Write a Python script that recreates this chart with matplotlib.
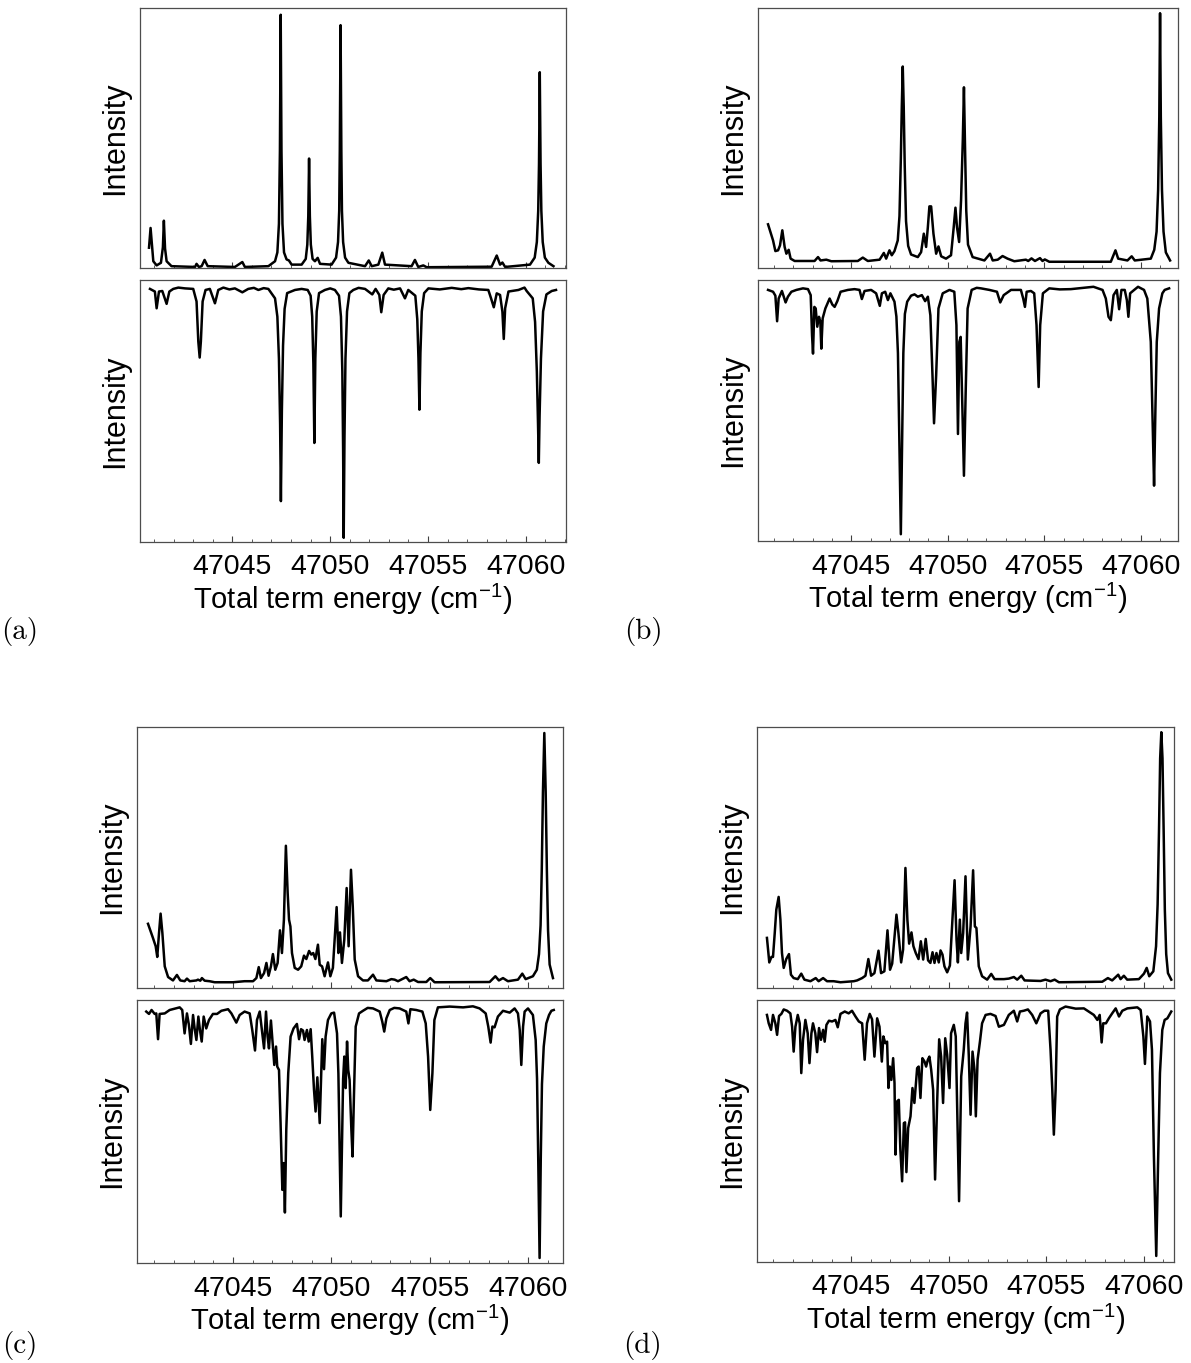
import numpy as np
import matplotlib
matplotlib.use("Agg")
import matplotlib.pyplot as plt
from matplotlib.ticker import MultipleLocator, StrMethodFormatter

# (energy in cm^-1, intensity in arb. units)
A_UPPER = [
    (47040.74, 7.8), (47040.82, 15.4), (47040.96, 2.6), (47041.13, 1.0), (47041.35, 2.0),
    (47041.45, 8.0), (47041.50, 18.2), (47041.56, 7.5), (47041.64, 2.6), (47041.89, 0.7),
    (47043.09, 0.4), (47043.17, 1.6), (47043.29, 0.4), (47043.43, 0.7), (47043.58, 3.1),
    (47043.74, 0.7), (47045.13, 0.4), (47045.51, 2.3), (47045.64, 0.4), (47046.84, 0.7),
    (47047.18, 2.6), (47047.30, 6.0), (47047.38, 17.0), (47047.43, 45.0), (47047.47, 97.4),
    (47047.51, 45.0), (47047.56, 17.0), (47047.64, 6.0), (47047.77, 3.3), (47047.89, 2.9),
    (47048.03, 1.3), (47048.54, 1.3), (47048.75, 3.5), (47048.83, 9.0), (47048.88, 20.0),
    (47048.92, 42.1), (47048.96, 20.0), (47049.01, 9.0), (47049.10, 3.5), (47049.22, 2.6),
    (47049.36, 3.9), (47049.48, 1.6), (47050.07, 1.3), (47050.30, 4.0), (47050.40, 10.0),
    (47050.46, 22.0), (47050.49, 45.0), (47050.53, 93.4), (47050.57, 45.0), (47050.60, 22.0),
    (47050.66, 10.0), (47050.76, 4.0), (47050.93, 2.0), (47051.78, 0.7), (47051.97, 2.9),
    (47052.12, 0.7), (47052.46, 1.3), (47052.66, 5.9), (47052.80, 1.3), (47054.16, 0.7),
    (47054.33, 3.1), (47054.50, 0.4), (47054.76, 1.0), (47054.93, 0.3), (47058.25, 0.5),
    (47058.51, 4.8), (47058.68, 1.3), (47058.80, 2.1), (47058.94, 0.4), (47060.21, 1.3),
    (47060.45, 4.0), (47060.56, 10.0), (47060.63, 22.0), (47060.67, 40.0), (47060.71, 75.3),
    (47060.75, 40.0), (47060.79, 22.0), (47060.86, 10.0), (47060.97, 4.0), (47061.15, 2.0),
    (47061.41, 0.7),
]

A_LOWER = [
    (47040.79, 3.4), (47041.04, 4.4), (47041.13, 10.8), (47041.25, 4.4), (47041.42, 4.2),
    (47041.64, 9.1), (47041.78, 4.4), (47041.98, 3.4), (47042.24, 2.9), (47042.58, 3.2),
    (47043.00, 3.4), (47043.17, 8.2), (47043.26, 23.5), (47043.33, 29.6), (47043.39, 23.5),
    (47043.48, 8.2), (47043.63, 3.8), (47043.85, 3.4), (47044.11, 8.9), (47044.28, 3.8),
    (47044.54, 2.9), (47044.85, 3.6), (47045.13, 3.2), (47045.51, 4.7), (47045.81, 3.4),
    (47046.10, 3.0), (47046.33, 3.8), (47046.60, 3.1), (47046.84, 3.4), (47047.18, 7.0),
    (47047.30, 14.0), (47047.38, 30.0), (47047.44, 55.0), (47047.48, 84.4), (47047.53, 50.0),
    (47047.59, 25.0), (47047.67, 11.0), (47047.80, 5.0), (47048.20, 3.8), (47048.54, 3.4),
    (47048.85, 3.8), (47049.00, 6.0), (47049.08, 14.0), (47049.14, 32.0), (47049.19, 62.2),
    (47049.24, 30.0), (47049.31, 12.0), (47049.43, 5.0), (47049.73, 3.8), (47050.00, 3.2),
    (47050.24, 3.8), (47050.45, 6.0), (47050.55, 14.0), (47050.62, 35.0), (47050.66, 65.0),
    (47050.69, 98.4), (47050.73, 60.0), (47050.78, 30.0), (47050.86, 12.0), (47050.98, 5.0),
    (47051.18, 3.8), (47051.45, 3.0), (47051.78, 3.4), (47052.15, 5.5), (47052.32, 3.4),
    (47052.51, 5.7), (47052.61, 12.3), (47052.73, 5.7), (47052.97, 3.2), (47053.25, 3.7),
    (47053.57, 3.2), (47053.82, 7.0), (47053.99, 3.8), (47054.35, 6.0), (47054.45, 15.0),
    (47054.51, 30.0), (47054.56, 49.5), (47054.61, 28.0), (47054.68, 12.0), (47054.80, 5.0),
    (47055.02, 3.2), (47055.60, 3.6), (47056.21, 3.0), (47056.70, 3.5), (47057.06, 3.1),
    (47057.60, 3.6), (47058.08, 3.8), (47058.22, 7.0), (47058.36, 10.4), (47058.51, 5.1),
    (47058.68, 5.7), (47058.80, 12.1), (47058.87, 22.5), (47058.94, 10.8), (47059.11, 4.4),
    (47059.62, 3.8), (47059.93, 2.9), (47060.04, 4.2), (47060.35, 7.0), (47060.47, 16.0),
    (47060.56, 35.0), (47060.62, 55.0), (47060.66, 69.8), (47060.70, 52.0), (47060.77, 30.0),
    (47060.88, 12.0), (47061.05, 5.5), (47061.32, 4.2), (47061.54, 3.8),
]

B_UPPER = [
    (47040.69, 16.8), (47040.95, 10.6), (47041.07, 6.5), (47041.21, 6.8), (47041.31, 8.7),
    (47041.43, 14.5), (47041.55, 8.1), (47041.64, 5.5), (47041.76, 7.0), (47041.86, 3.6),
    (47042.07, 2.7), (47043.10, 2.7), (47043.28, 4.2), (47043.41, 2.9), (47043.71, 3.2),
    (47043.97, 2.6), (47045.34, 2.7), (47045.60, 4.0), (47045.86, 2.7), (47046.47, 3.2),
    (47046.69, 5.8), (47046.81, 3.6), (47046.98, 6.8), (47047.10, 4.9), (47047.24, 6.5),
    (47047.41, 10.6), (47047.50, 20.0), (47047.57, 42.0), (47047.62, 62.0), (47047.67, 77.5),
    (47047.72, 62.0), (47047.77, 40.0), (47047.84, 18.0), (47047.95, 8.5), (47048.10, 5.2),
    (47048.45, 4.2), (47048.62, 6.1), (47048.76, 13.2), (47048.88, 8.1), (47048.97, 15.7),
    (47049.05, 23.7), (47049.14, 23.7), (47049.26, 13.2), (47049.40, 5.5), (47049.52, 8.3),
    (47049.66, 4.5), (47049.91, 3.6), (47050.17, 4.9), (47050.31, 15.7), (47050.40, 23.2),
    (47050.48, 15.7), (47050.59, 10.0), (47050.69, 26.0), (47050.78, 49.0), (47050.84, 69.5),
    (47050.90, 45.0), (47050.96, 22.0), (47051.05, 9.0), (47051.29, 4.2), (47051.90, 2.9),
    (47052.19, 5.5), (47052.33, 2.9), (47052.59, 3.2), (47052.84, 4.6), (47053.10, 3.6),
    (47053.45, 2.6), (47054.05, 3.2), (47054.17, 2.7), (47054.34, 3.7), (47054.52, 2.7),
    (47054.78, 3.8), (47054.91, 2.7), (47055.03, 3.3), (47055.26, 2.4), (47058.45, 2.4),
    (47058.69, 6.8), (47058.83, 3.6), (47059.31, 2.9), (47059.53, 4.5), (47059.69, 2.9),
    (47060.52, 3.6), (47060.70, 7.0), (47060.82, 14.0), (47060.90, 30.0), (47060.96, 58.0),
    (47061.00, 98.0), (47061.04, 58.0), (47061.10, 30.0), (47061.18, 14.0), (47061.30, 6.0),
    (47061.52, 2.9),
]

B_LOWER = [
    (47040.69, 3.8), (47040.95, 4.5), (47041.07, 6.0), (47041.16, 15.8), (47041.24, 7.1),
    (47041.41, 4.2), (47041.60, 8.6), (47041.72, 6.4), (47041.90, 4.5), (47042.16, 3.8),
    (47042.50, 3.2), (47042.76, 3.5), (47042.90, 5.8), (47042.97, 21.2), (47043.02, 28.2),
    (47043.09, 10.3), (47043.16, 10.9), (47043.24, 17.9), (47043.33, 14.1), (47043.40, 16.0),
    (47043.45, 26.3), (47043.52, 14.7), (47043.66, 10.9), (47043.88, 7.1), (47044.02, 9.4),
    (47044.14, 10.3), (47044.28, 8.1), (47044.45, 4.5), (47044.83, 3.8), (47045.17, 3.5),
    (47045.43, 3.8), (47045.55, 7.3), (47045.69, 4.2), (47046.03, 3.8), (47046.29, 5.1),
    (47046.48, 9.9), (47046.59, 5.1), (47046.76, 4.5), (47046.90, 7.7), (47047.03, 5.1),
    (47047.24, 8.3), (47047.34, 14.0), (47047.42, 28.0), (47047.49, 60.0), (47047.57, 97.4),
    (47047.64, 60.0), (47047.70, 28.0), (47047.78, 13.0), (47047.90, 8.3), (47048.10, 6.0),
    (47048.28, 5.5), (47048.45, 6.4), (47048.66, 5.8), (47048.83, 8.1), (47048.97, 6.4),
    (47049.10, 13.5), (47049.21, 36.5), (47049.29, 54.9), (47049.40, 36.5), (47049.52, 10.9),
    (47049.74, 5.1), (47050.09, 3.8), (47050.34, 4.5), (47050.45, 17.3), (47050.53, 59.0),
    (47050.60, 23.7), (47050.67, 21.8), (47050.76, 49.4), (47050.84, 75.0), (47050.93, 42.9),
    (47051.03, 10.9), (47051.24, 3.8), (47051.50, 3.0), (47051.72, 3.2), (47052.16, 3.8),
    (47052.55, 4.5), (47052.72, 8.6), (47052.90, 5.8), (47053.28, 3.8), (47053.79, 3.8),
    (47053.91, 7.1), (47054.00, 10.3), (47054.09, 4.5), (47054.31, 4.2), (47054.48, 5.1),
    (47054.60, 17.3), (47054.71, 41.0), (47054.79, 17.3), (47054.93, 5.1), (47055.26, 3.2),
    (47055.80, 3.6), (47056.38, 3.5), (47056.90, 3.1), (47057.55, 2.6), (47058.02, 3.8),
    (47058.19, 7.1), (47058.33, 14.1), (47058.45, 15.4), (47058.59, 5.8), (47058.76, 3.8),
    (47058.88, 11.2), (47059.00, 3.8), (47059.17, 3.8), (47059.28, 7.7), (47059.36, 14.1),
    (47059.45, 5.1), (47059.66, 3.8), (47059.86, 2.6), (47060.17, 3.8), (47060.34, 7.1),
    (47060.52, 23.7), (47060.62, 55.8), (47060.69, 78.8), (47060.76, 49.4), (47060.83, 23.7),
    (47060.95, 10.9), (47061.12, 5.1), (47061.24, 3.8), (47061.47, 3.2),
]

C_UPPER = [
    (47040.68, 24.6), (47040.93, 19.2), (47041.07, 16.0), (47041.15, 11.9), (47041.24, 21.1),
    (47041.32, 28.5), (47041.41, 21.1), (47041.53, 8.3), (47041.70, 4.2), (47041.95, 2.9),
    (47042.15, 5.0), (47042.32, 2.9), (47042.54, 2.6), (47042.66, 3.6), (47042.80, 2.6),
    (47043.14, 2.9), (47043.22, 3.2), (47043.34, 2.8), (47043.42, 3.8), (47043.56, 2.8),
    (47043.81, 2.6), (47044.07, 2.2), (47045.00, 2.2), (47045.59, 2.6), (47046.02, 2.6),
    (47046.19, 3.8), (47046.31, 8.0), (47046.42, 3.8), (47046.58, 5.7), (47046.70, 9.6),
    (47046.81, 4.7), (47046.93, 8.3), (47047.03, 13.0), (47047.15, 7.0), (47047.27, 9.6),
    (47047.39, 22.1), (47047.49, 13.4), (47047.59, 26.2), (47047.69, 54.5), (47047.78, 36.4),
    (47047.85, 26.2), (47047.92, 23.6), (47048.00, 13.4), (47048.14, 7.7), (47048.31, 7.0),
    (47048.47, 8.3), (47048.61, 12.4), (47048.73, 11.1), (47048.87, 14.2), (47048.98, 12.8),
    (47049.08, 13.4), (47049.19, 11.1), (47049.32, 16.6), (47049.41, 8.9), (47049.53, 8.3),
    (47049.66, 4.5), (47049.83, 9.8), (47049.95, 4.5), (47050.08, 7.7), (47050.19, 21.1),
    (47050.27, 31.0), (47050.36, 13.4), (47050.44, 21.3), (47050.54, 9.6), (47050.66, 18.5),
    (47050.78, 38.3), (47050.88, 16.0), (47051.00, 45.3), (47051.09, 31.3), (47051.19, 10.9),
    (47051.36, 4.5), (47051.61, 2.9), (47051.86, 2.9), (47052.12, 5.1), (47052.29, 2.9),
    (47052.80, 2.6), (47053.05, 3.4), (47053.22, 3.2), (47053.39, 2.6), (47053.81, 4.2),
    (47053.98, 2.6), (47054.19, 3.2), (47054.41, 2.3), (47054.83, 2.3), (47055.03, 3.8),
    (47055.25, 2.2), (47058.05, 2.3), (47058.34, 4.5), (47058.52, 2.9), (47058.73, 3.8),
    (47058.98, 2.6), (47059.49, 3.2), (47059.71, 5.5), (47059.88, 3.4), (47060.25, 4.5),
    (47060.45, 7.0), (47060.56, 13.0), (47060.64, 24.0), (47060.70, 45.0), (47060.76, 75.0),
    (47060.83, 97.7), (47060.90, 75.0), (47060.96, 45.0), (47061.02, 22.0), (47061.10, 9.0),
    (47061.27, 3.8),
]

C_LOWER = [
    (47040.59, 4.4), (47040.73, 5.3), (47040.86, 3.8), (47041.02, 5.3), (47041.10, 5.1),
    (47041.19, 14.9), (47041.27, 5.3), (47041.53, 5.1), (47041.78, 3.8), (47042.29, 2.8),
    (47042.42, 3.8), (47042.54, 12.7), (47042.66, 5.1), (47042.76, 9.5), (47042.86, 16.7),
    (47042.97, 5.7), (47043.05, 10.8), (47043.14, 15.2), (47043.24, 6.3), (47043.32, 11.4),
    (47043.41, 15.8), (47043.51, 6.3), (47043.64, 10.8), (47043.78, 7.6), (47043.98, 5.3),
    (47044.19, 5.3), (47044.41, 4.1), (47044.75, 3.5), (47044.92, 5.1), (47045.17, 8.6),
    (47045.34, 5.7), (47045.59, 4.4), (47045.85, 5.1), (47045.98, 11.4), (47046.12, 19.2),
    (47046.22, 7.6), (47046.36, 4.4), (47046.47, 11.4), (47046.58, 18.4), (47046.68, 4.4),
    (47046.76, 13.9), (47046.83, 18.4), (47046.93, 7.8), (47047.03, 17.7), (47047.10, 24.7),
    (47047.19, 17.7), (47047.25, 25.3), (47047.34, 26.6), (47047.42, 46.8), (47047.51, 72.2),
    (47047.58, 62.0), (47047.64, 80.8), (47047.71, 49.4), (47047.81, 27.8), (47047.93, 13.9),
    (47048.08, 10.8), (47048.25, 9.1), (47048.36, 14.9), (47048.46, 11.1), (47048.56, 11.6),
    (47048.64, 15.2), (47048.76, 11.4), (47048.85, 15.8), (47048.95, 11.1), (47049.03, 21.5),
    (47049.12, 34.2), (47049.20, 42.4), (47049.29, 29.4), (47049.41, 46.8), (47049.47, 31.6),
    (47049.54, 14.9), (47049.63, 26.3), (47049.71, 13.9), (47049.83, 7.6), (47050.00, 5.1),
    (47050.14, 4.8), (47050.29, 12.7), (47050.36, 28.0), (47050.42, 55.0), (47050.48, 82.3),
    (47050.54, 55.0), (47050.60, 30.0), (47050.66, 21.5), (47050.73, 33.5), (47050.80, 15.8),
    (47050.86, 26.6), (47050.93, 30.4), (47051.02, 49.4), (47051.08, 59.5), (47051.15, 36.7),
    (47051.24, 10.1), (47051.41, 5.1), (47051.61, 4.1), (47051.85, 3.0), (47052.12, 3.2),
    (47052.46, 4.4), (47052.59, 8.2), (47052.69, 12.0), (47052.80, 7.0), (47052.97, 3.8),
    (47053.20, 3.0), (47053.47, 3.2), (47053.81, 4.4), (47053.92, 8.9), (47054.02, 3.5),
    (47054.32, 3.8), (47054.63, 4.4), (47054.80, 8.9), (47054.92, 21.5), (47055.03, 41.8),
    (47055.14, 27.8), (47055.24, 7.6), (47055.42, 2.8), (47056.02, 2.5), (47056.70, 2.8),
    (47057.20, 2.4), (47057.54, 3.2), (47057.85, 5.1), (47057.98, 10.1), (47058.10, 16.2),
    (47058.19, 10.1), (47058.30, 10.4), (47058.47, 6.3), (47058.73, 4.1), (47059.07, 4.8),
    (47059.32, 3.2), (47059.49, 5.1), (47059.58, 11.4), (47059.66, 24.7), (47059.75, 10.1),
    (47059.83, 4.4), (47060.00, 3.2), (47060.25, 5.7), (47060.39, 15.2), (47060.46, 30.0),
    (47060.52, 60.0), (47060.59, 98.1), (47060.65, 60.0), (47060.71, 32.0), (47060.80, 17.7),
    (47060.93, 8.9), (47061.07, 5.7), (47061.19, 4.1), (47061.31, 3.8),
]

D_UPPER = [
    (47040.67, 19.2), (47040.79, 9.8), (47040.90, 11.9), (47040.98, 11.9), (47041.07, 21.1),
    (47041.15, 30.0), (47041.27, 34.9), (47041.36, 26.2), (47041.44, 13.4), (47041.53, 7.7),
    (47041.66, 11.1), (47041.80, 13.0), (47041.90, 5.1), (47042.04, 3.8), (47042.25, 3.4),
    (47042.43, 5.5), (47042.59, 3.2), (47042.90, 2.6), (47043.17, 3.8), (47043.32, 2.6),
    (47043.55, 3.8), (47043.75, 2.6), (47044.09, 2.6), (47044.44, 2.2), (47045.12, 2.6),
    (47045.29, 2.9), (47045.55, 3.8), (47045.72, 4.7), (47045.87, 11.1), (47046.01, 4.7),
    (47046.18, 5.7), (47046.39, 14.3), (47046.52, 5.7), (47046.69, 6.4), (47046.85, 22.1),
    (47046.98, 7.0), (47047.09, 9.3), (47047.31, 28.1), (47047.41, 21.1), (47047.55, 9.8),
    (47047.65, 14.7), (47047.77, 46.0), (47047.87, 26.2), (47047.96, 17.0), (47048.08, 21.3),
    (47048.18, 16.0), (47048.30, 13.4), (47048.44, 11.1), (47048.56, 17.9), (47048.68, 10.9),
    (47048.81, 18.8), (47048.93, 10.6), (47049.05, 9.6), (47049.16, 13.7), (47049.26, 9.6),
    (47049.36, 13.4), (47049.48, 9.8), (47049.57, 14.4), (47049.67, 12.8), (47049.77, 8.3),
    (47049.91, 6.0), (47050.05, 8.6), (47050.18, 26.2), (47050.29, 41.3), (47050.39, 18.5),
    (47050.46, 9.8), (47050.56, 26.2), (47050.63, 13.4), (47050.73, 21.1), (47050.85, 42.8),
    (47050.97, 10.9), (47051.11, 23.6), (47051.24, 45.1), (47051.33, 23.6), (47051.41, 23.0),
    (47051.53, 8.3), (47051.70, 4.5), (47051.96, 3.2), (47052.17, 5.4), (47052.34, 3.4),
    (47052.82, 3.4), (47053.07, 3.6), (47053.33, 4.2), (47053.50, 3.2), (47053.71, 4.7),
    (47053.88, 2.9), (47054.27, 2.8), (47054.70, 2.7), (47054.95, 3.2), (47055.21, 2.6),
    (47055.42, 3.2), (47055.64, 2.2), (47057.86, 2.4), (47058.15, 3.8), (47058.37, 2.9),
    (47058.68, 5.1), (47058.80, 3.4), (47058.97, 4.7), (47059.14, 3.2), (47059.74, 3.4),
    (47060.00, 5.5), (47060.14, 7.7), (47060.27, 4.5), (47060.48, 6.4), (47060.62, 16.0),
    (47060.70, 32.0), (47060.77, 60.0), (47060.83, 88.0), (47060.89, 98.0), (47060.95, 88.0),
    (47061.01, 60.0), (47061.07, 30.0), (47061.14, 13.0), (47061.23, 5.7), (47061.40, 3.2),
]

D_LOWER = [
    (47040.67, 5.7), (47040.76, 8.9), (47040.88, 11.4), (47040.98, 5.7), (47041.10, 8.9),
    (47041.19, 13.3), (47041.29, 6.1), (47041.41, 5.3), (47041.53, 3.6), (47041.70, 4.1),
    (47041.87, 5.1), (47041.96, 10.2), (47042.04, 19.7), (47042.13, 10.2), (47042.25, 5.7),
    (47042.35, 8.9), (47042.43, 27.9), (47042.52, 15.2), (47042.64, 7.6), (47042.76, 12.7),
    (47042.85, 24.1), (47042.95, 12.7), (47043.03, 8.9), (47043.15, 12.7), (47043.24, 19.9),
    (47043.34, 10.7), (47043.44, 15.2), (47043.55, 11.4), (47043.63, 15.9), (47043.72, 9.5),
    (47043.85, 7.9), (47044.01, 8.2), (47044.18, 7.6), (47044.30, 10.4), (47044.44, 5.3),
    (47044.66, 4.4), (47044.86, 5.1), (47045.03, 4.1), (47045.21, 6.3), (47045.38, 8.2),
    (47045.55, 8.9), (47045.68, 22.8), (47045.80, 8.9), (47045.94, 5.3), (47046.06, 7.4),
    (47046.18, 21.6), (47046.32, 7.0), (47046.44, 10.2), (47046.56, 23.5), (47046.64, 13.9),
    (47046.74, 16.5), (47046.83, 15.9), (47046.90, 33.6), (47046.97, 25.4), (47047.05, 30.5),
    (47047.14, 22.2), (47047.21, 31.7), (47047.26, 59.0), (47047.34, 38.7), (47047.43, 38.1),
    (47047.51, 57.1), (47047.60, 69.2), (47047.69, 47.0), (47047.75, 46.7), (47047.82, 65.7),
    (47047.91, 48.9), (47048.03, 44.4), (47048.13, 33.6), (47048.23, 39.3), (47048.37, 26.0),
    (47048.45, 25.4), (47048.54, 37.4), (47048.64, 22.2), (47048.75, 23.5), (47048.83, 25.4),
    (47048.92, 22.8), (47049.00, 21.6), (47049.09, 26.6), (47049.19, 34.3), (47049.29, 68.5),
    (47049.40, 38.1), (47049.50, 15.0), (47049.60, 21.6), (47049.70, 39.3), (47049.81, 14.6),
    (47049.91, 20.9), (47050.03, 33.6), (47050.11, 12.7), (47050.25, 9.5), (47050.35, 13.9),
    (47050.44, 47.0), (47050.52, 76.8), (47050.63, 29.2), (47050.76, 19.0), (47050.85, 8.9),
    (47050.93, 4.8), (47051.02, 21.6), (47051.11, 43.8), (47051.21, 19.7), (47051.31, 26.6),
    (47051.38, 44.4), (47051.47, 22.8), (47051.59, 15.9), (47051.70, 8.9), (47051.88, 5.7),
    (47052.13, 5.3), (47052.39, 6.1), (47052.56, 10.2), (47052.82, 9.5), (47053.07, 5.7),
    (47053.33, 4.1), (47053.50, 8.2), (47053.64, 4.4), (47053.84, 4.1), (47054.05, 3.6),
    (47054.27, 5.7), (47054.48, 8.9), (47054.70, 5.1), (47054.90, 4.1), (47055.09, 4.1),
    (47055.21, 19.0), (47055.30, 34.3), (47055.38, 51.4), (47055.47, 34.3), (47055.55, 6.3),
    (47055.69, 3.6), (47055.98, 2.5), (47056.50, 3.3), (47056.92, 3.2), (47057.43, 5.7),
    (47057.61, 7.6), (47057.73, 5.7), (47057.83, 16.2), (47057.91, 8.9), (47058.05, 8.9),
    (47058.20, 7.0), (47058.37, 5.1), (47058.55, 3.2), (47058.72, 6.3), (47058.89, 4.1),
    (47059.15, 3.2), (47059.66, 2.8), (47059.83, 3.8), (47059.97, 14.0), (47060.05, 24.4),
    (47060.17, 6.3), (47060.31, 8.2), (47060.41, 19.0), (47060.51, 59.6), (47060.63, 97.7),
    (47060.73, 59.6), (47060.82, 27.9), (47060.94, 11.4), (47061.06, 7.6), (47061.20, 7.0),
    (47061.40, 4.4),
]

PANEL_NAMES = ["(a)", "(b)", "(c)", "(d)"]

W, H = 1191, 1363


def px_rect(left, top, right, bottom):
    return [left / W, 1 - bottom / H, (right - left) / W, (bottom - top) / H]


def style_axis(ax, xlim, show_labels):
    ax.set_xlim(*xlim)
    ax.xaxis.set_major_locator(MultipleLocator(5))
    ax.xaxis.set_minor_locator(MultipleLocator(1))
    ax.xaxis.set_major_formatter(StrMethodFormatter("{x:.0f}"))
    ax.set_yticks([])
    ax.tick_params(axis="x", which="major", direction="in", length=4, width=0.8,
                   labelsize=20.5, pad=9, labelbottom=show_labels, color="0.25")
    ax.tick_params(axis="x", which="minor", direction="in", length=2, width=0.6, color="0.25")
    for sp in ax.spines.values():
        sp.set_linewidth(0.9)
        sp.set_color("0.3")
    ax.set_ylabel("Intensity", fontsize=22, labelpad=7)


plt.rcParams["font.family"] = ["Liberation Sans", "DejaVu Sans"]
plt.rcParams["mathtext.fontset"] = "custom"
plt.rcParams["mathtext.rm"] = "Liberation Sans"
plt.rcParams["mathtext.it"] = "Liberation Sans:italic"
plt.rcParams["mathtext.bf"] = "Liberation Sans:bold"

fig = plt.figure(figsize=(W / 100, H / 100), dpi=100)

layout = [
    # upper rect, lower rect, x limits, panel label centre (px)
    ((140, 8, 566, 268), (140, 280, 566, 542), (47040.28, 47062.05), (20, 632)),
    ((758, 8, 1178, 268), (758, 280, 1178, 541), (47040.17, 47061.93), (643, 632)),
    ((137, 727, 563, 988), (137, 1000, 563, 1263), (47040.12, 47061.78), (20, 1345)),
    ((757, 727, 1174, 988), (757, 1000, 1174, 1262), (47040.16, 47061.54), (643, 1345)),
]
traces = [(A_UPPER, A_LOWER), (B_UPPER, B_LOWER), (C_UPPER, C_LOWER), (D_UPPER, D_LOWER)]

for name, (upper, lower), (r_up, r_lo, xlim, lab) in zip(PANEL_NAMES, traces, layout):
    ax_up = fig.add_axes(px_rect(*r_up))
    ax_lo = fig.add_axes(px_rect(*r_lo))

    x, y = np.array(upper).T
    ax_up.plot(x, y, color="black", lw=1.8, solid_joinstyle="round")
    ax_up.set_ylim(0, 100)
    style_axis(ax_up, xlim, False)

    x, y = np.array(lower).T
    ax_lo.plot(x, y, color="black", lw=1.8, solid_joinstyle="round")
    ax_lo.set_ylim(100, 0)
    style_axis(ax_lo, xlim, True)
    ax_lo.set_xlabel("Total term energy (cm$^{-1}$)", fontsize=21, labelpad=1)

    fig.text(lab[0] / W, 1 - lab[1] / H, name, family="cmr10", fontsize=21,
             ha="center", va="center")

fig.savefig("out.png", dpi=100)
